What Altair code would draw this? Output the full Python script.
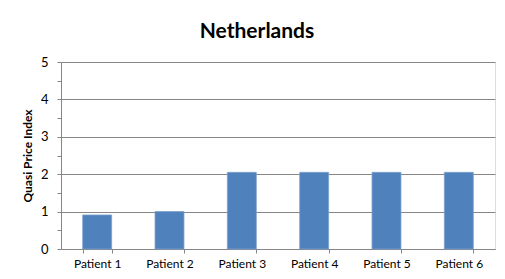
import altair as alt
import pandas as pd

patients = ["Patient 1", "Patient 2", "Patient 3", "Patient 4", "Patient 5", "Patient 6"]
values = [0.91, 1.0, 2.05, 2.05, 2.05, 2.05]
y_ticks = [0, 0.5, 1, 1.5, 2, 2.5, 3, 3.5, 4, 4.5, 5]

df = pd.DataFrame({"patient": patients, "value": values})

FONT = "Lato"
GREY = "#868686"

chart = alt.Chart(df).mark_bar(color="#4F81BD", stroke="#7B9FCB", strokeWidth=0.8).encode(
    x=alt.X("patient:N", sort=patients, title=None,
            scale=alt.Scale(paddingInner=0.6, paddingOuter=0.3),
            axis=alt.Axis(labelAngle=0, labelFont=FONT, labelFontSize=12, labelColor="#000000",
                          tickBand="extent", tickSize=4, tickColor=GREY, domainColor=GREY,
                          labelPadding=5, grid=False)),
    y=alt.Y("value:Q", title="Quasi Price Index",
            scale=alt.Scale(domain=[0, 5], nice=False),
            axis=alt.Axis(values=y_ticks,
                          labelExpr="datum.value % 1 === 0 ? format(datum.value, 'd') : ''",
                          labelFont=FONT, labelFontSize=13, labelColor="#000000",
                          labelPadding=9, tickSize=4, tickColor=GREY, domainColor=GREY,
                          grid=True, gridColor=GREY,
                          gridOpacity={"condition": {"test": "datum.value % 1 === 0", "value": 1}, "value": 0},
                          titleFont=FONT, titleFontSize=12, titleFontWeight="bold",
                          titleColor="#000000", titlePadding=6)),
).properties(
    width=434,
    height=187,
    title=alt.TitleParams("Netherlands", font=FONT, fontSize=21, fontWeight="bold",
                          color="#000000", anchor="middle", dx=-21, offset=14),
    autosize=alt.AutoSizeParams(type="none"),
    padding={"left": 53, "top": 54, "right": 2, "bottom": 22},
).configure_view(stroke=None).configure(background="white")

chart.save("out.html", embed_options={"renderer": "svg", "actions": False})
